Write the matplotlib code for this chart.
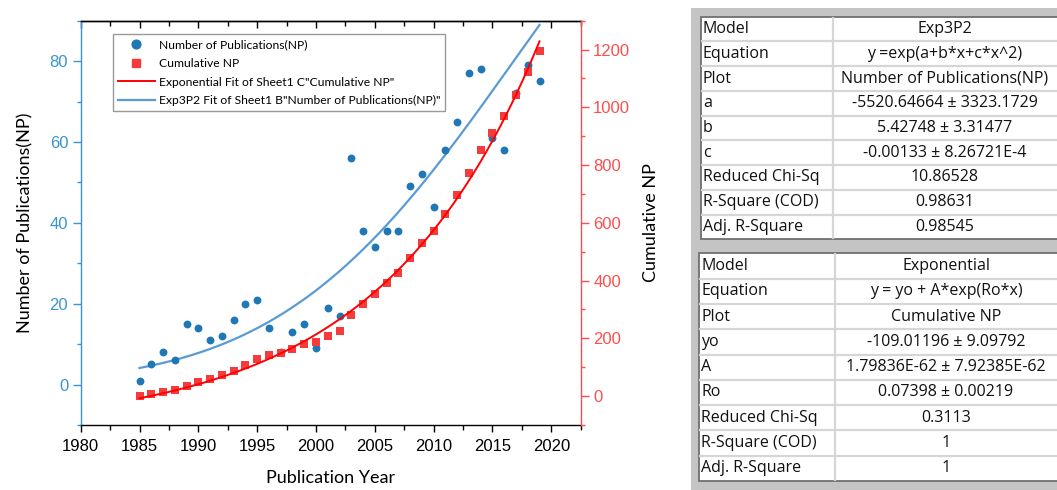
import numpy as np
import matplotlib
matplotlib.use("Agg")
import matplotlib.pyplot as plt
from matplotlib.patches import Rectangle
from matplotlib.lines import Line2D
from matplotlib.ticker import MultipleLocator

# --- data ---
years = list(range(1985, 2020))
num_pubs = [1, 5, 8, 6, 15, 14, 11, 12, 16, 20, 21, 14, 8, 13, 15, 9, 19, 17, 56, 38,
            34, 38, 38, 49, 52, 44, 58, 65, 77, 78, 61, 58, 72, 79, 75]
cum_pubs = [1, 6, 14, 20, 35, 49, 60, 72, 88, 108, 129, 143, 151, 164, 179, 188, 207, 224,
            280, 318, 352, 390, 428, 477, 529, 573, 631, 696, 773, 851, 912, 970, 1042,
            1121, 1196]

# fit report tables (Origin style)
exp3p2_rows = ["Model", "Equation", "Plot", "a", "b", "c", "Reduced Chi-Sq",
               "R-Square (COD)", "Adj. R-Square"]
exp3p2_vals = ["Exp3P2", "y =exp(a+b*x+c*x^2)", "Number of Publications(NP)",
               "-5520.64664 \u00b1 3323.1729", "5.42748 \u00b1 3.31477",
               "-0.00133 \u00b1 8.26721E-4", "10.86528", "0.98631", "0.98545"]
expo_rows = ["Model", "Equation", "Plot", "yo", "A", "Ro", "Reduced Chi-Sq",
             "R-Square (COD)", "Adj. R-Square"]
expo_vals = ["Exponential", "y = yo + A*exp(Ro*x)", "Cumulative NP",
             "-109.01196 \u00b1 9.09792", "1.79836E-62 \u00b1 7.92385E-62",
             "0.07398 \u00b1 0.00219", "0.3113", "1", "1"]

# fit parameters: Ro and c from the report; the Exp3P2 a, b are too rounded
# to be usable, so they are re-expressed around x = 2002
R0 = 0.07398
C_EXP3P2 = -0.00133
X_CENTER = 2002.0
A_CENTER = 3.334
B_CENTER = 0.0905

x = np.array(years, dtype=float)
y_np = np.array(num_pubs, dtype=float)
y_cum = np.array(cum_pubs, dtype=float)


def exp3p2(xx):
    t = xx - X_CENTER
    return np.exp(A_CENTER + B_CENTER * t + C_EXP3P2 * t ** 2)


def fit_expo(xd, yd, r0):
    # yo and A by least squares for the reported Ro
    e = np.exp(r0 * (xd - 1985.0))
    M = np.column_stack([np.ones_like(e), e])
    y0, a = np.linalg.lstsq(M, yd, rcond=None)[0]
    return lambda xx: y0 + a * np.exp(r0 * (xx - 1985.0))


red_fit = fit_expo(x, y_cum, R0)
xf = np.linspace(1985, 2019, 300)

# --- figure ---
W, H = 1057, 490
fig = plt.figure(figsize=(W / 100, H / 100), dpi=100)
fig.patch.set_facecolor("white")

BLUE_AX = "#3a94d0"
RED_AX = "#ff4d4d"
label_font = "Lato"
table_font = "Open Sans"
tick_font = "Liberation Sans"

ax = fig.add_axes([80.7 / W, 65 / H, 500 / W, 404.3 / H])
ax2 = ax.twinx()

ax.scatter(x, y_np, s=32, color="#1f77b4", zorder=3, linewidths=0)
ax.plot(xf, exp3p2(xf), color="#5b9bd5", lw=1.6, zorder=2)
ax2.scatter(x, y_cum, s=26, marker="s", color="#f53b3b", zorder=3, linewidths=0)
ax2.plot(xf, red_fit(xf), color="#ff0000", lw=1.4, zorder=4)

ax.set_xlim(1980, 2022.5)
ax.set_ylim(-10, 90)
ax2.set_ylim(-100, 1300)

ax.xaxis.set_major_locator(MultipleLocator(5))
ax.xaxis.set_minor_locator(MultipleLocator(2.5))
ax.yaxis.set_major_locator(MultipleLocator(20))
ax.yaxis.set_minor_locator(MultipleLocator(10))
ax2.yaxis.set_major_locator(MultipleLocator(200))
ax2.yaxis.set_minor_locator(MultipleLocator(100))

ax.tick_params(axis="x", which="major", direction="out", length=5, width=1,
               labelsize=12, pad=5, top=False)
ax.tick_params(axis="x", which="minor", direction="out", length=3.5, width=1, top=False)
ax.tick_params(axis="y", which="major", direction="out", length=6, width=1,
               labelsize=12, pad=3, colors=BLUE_AX)
ax.tick_params(axis="y", which="minor", direction="out", length=3, width=1, colors=BLUE_AX)
ax2.tick_params(axis="y", which="major", direction="out", length=6, width=1,
                labelsize=12, pad=3, colors=RED_AX)
ax2.tick_params(axis="y", which="minor", direction="out", length=3, width=1, colors=RED_AX)
for lab in ax.get_xticklabels() + ax.get_yticklabels() + ax2.get_yticklabels():
    lab.set_fontfamily(tick_font)

# top axis: ticks pointing inward, no labels
top = ax.secondary_xaxis("top")
top.xaxis.set_major_locator(MultipleLocator(5))
top.xaxis.set_minor_locator(MultipleLocator(2.5))
top.tick_params(which="major", direction="in", length=5, width=1, labeltop=False)
top.tick_params(which="minor", direction="in", length=3.5, width=1)
top.spines["top"].set_linewidth(1)

ax.spines["left"].set_color(BLUE_AX)
ax.spines["right"].set_visible(False)
for s in ("left", "top", "bottom"):
    ax2.spines[s].set_visible(False)
ax2.spines["right"].set_color(RED_AX)
for a in (ax, ax2):
    for s in a.spines.values():
        s.set_linewidth(1)

ax.set_xlabel("Publication Year", fontsize=13, fontfamily=label_font)
ax.xaxis.set_label_coords(0.5, -0.112)
ax.set_ylabel("Number of Publications(NP)", fontsize=13, fontfamily=label_font)
ax.yaxis.set_label_coords(-0.094, 0.5)
ax2.set_ylabel("Cumulative NP", fontsize=13, fontfamily=label_font)
ax2.yaxis.set_label_coords(1.124, 0.5)

handles = [
    Line2D([], [], ls="none", marker="o", ms=6.3, color="#1f77b4"),
    Line2D([], [], ls="none", marker="s", ms=5.5, color="#f53b3b"),
    Line2D([], [], color="#ff0000", lw=1.4),
    Line2D([], [], color="#5b9bd5", lw=1.6),
]
labels = ["Number of Publications(NP)", "Cumulative NP",
          "Exponential Fit of Sheet1 C\"Cumulative NP\"",
          "Exp3P2 Fit of Sheet1 B\"Number of Publications(NP)\""]
leg = ax2.legend(handles, labels, loc="upper left", bbox_to_anchor=(0.065, 0.967),
                 borderaxespad=0, fancybox=False, frameon=True, handlelength=3.0,
                 labelspacing=0.64, borderpad=0.42, handletextpad=0.35,
                 prop={"family": label_font, "size": 8.7})
leg.get_frame().set_edgecolor("#808080")
leg.get_frame().set_linewidth(1)

# --- report tables on the right ---
tx0, ty0 = 691, 8
tax = fig.add_axes([tx0 / W, 0, (W - tx0) / W, (H - ty0) / H])
tax.set_xlim(tx0, W)
tax.set_ylim(H, ty0)
tax.axis("off")
tax.add_patch(Rectangle((tx0, ty0), W - tx0, H - ty0, color="#c4c4c4", zorder=0))


def draw_table(left, div, top_y, row_h, names, vals):
    n = len(names)
    right = W + 2
    tax.add_patch(Rectangle((left, top_y), right - left, n * row_h,
                            facecolor="white", edgecolor="#6f6f6f", lw=1.3, zorder=1))
    for i in range(1, n):
        yy = top_y + i * row_h
        tax.plot([left + 1, right], [yy, yy], color="#d6d6d6", lw=1.6, zorder=2)
    tax.plot([div, div], [top_y + 1, top_y + n * row_h - 1], color="#d6d6d6", lw=1.6,
             zorder=2)
    cx = (div + W) / 2
    for i, (nm, v) in enumerate(zip(names, vals)):
        yc = top_y + (i + 0.5) * row_h
        tax.text(left + 2, yc, nm, ha="left", va="center", fontsize=11.5,
                 fontfamily=table_font, color="#111111", clip_on=True, zorder=3)
        tax.text(cx, yc, v, ha="center", va="center", fontsize=11.5,
                 fontfamily=table_font, color="#111111", clip_on=True, zorder=3)


draw_table(701, 833, 16.7, 24.73, exp3p2_rows, exp3p2_vals)
draw_table(699.3, 835, 253.3, 25.3, expo_rows, expo_vals)

fig.savefig("out.png", dpi=100)
